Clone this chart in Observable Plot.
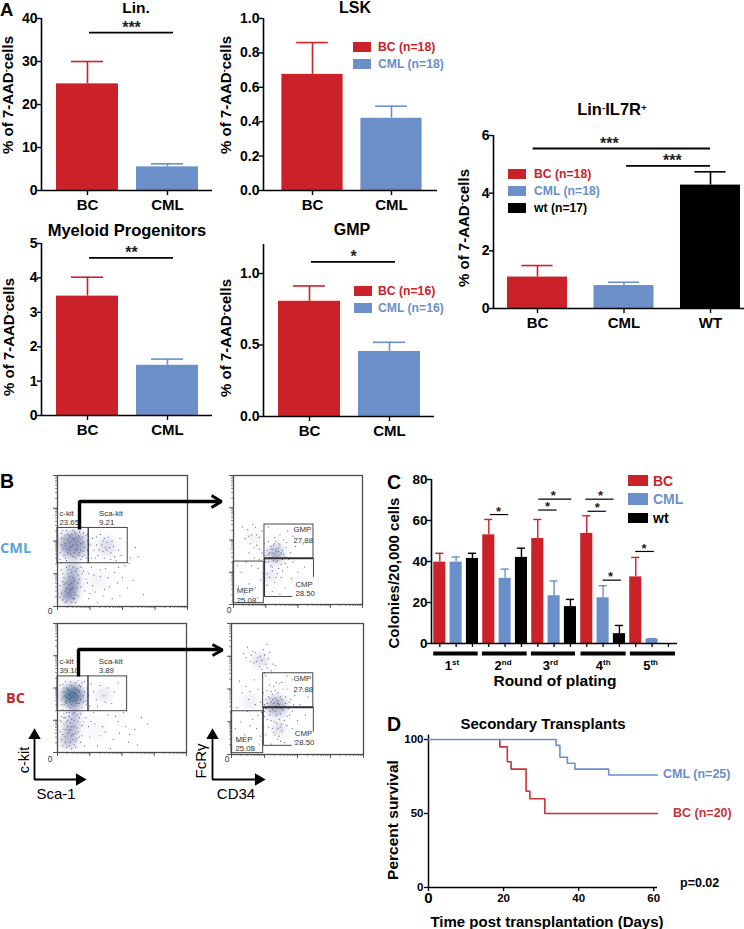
<!DOCTYPE html>
<html><head><meta charset="utf-8">
<script src="https://cdn.jsdelivr.net/npm/d3@7"></script>
<script src="https://cdn.jsdelivr.net/npm/@observablehq/plot@0.6"></script>
<style>
html,body{margin:0;padding:0;background:#fff}
#page{position:relative;width:744px;height:929px;overflow:hidden;font-family:"Liberation Sans",Arial,sans-serif;color:#000}
#page svg{position:absolute;overflow:visible;max-width:none}
.lb{position:absolute;white-space:nowrap;line-height:1;transform:translate(0,-50%)}
.ct{transform:translate(-50%,-50%)}
.rot{transform:translate(-50%,-50%) rotate(-90deg)}
.sw{position:absolute}
sup{font-size:60%;line-height:0;vertical-align:baseline;position:relative;top:-.45em}
</style></head><body><div id="page"></div>
<script>
const RED="#cb2229", BLUE="#6a8fc9", BLACK="#000";
const FONT='"Liberation Sans",Arial,sans-serif';

// Panel A values
const twoCats=["BC","CML"], threeCats=["BC","CML","WT"];
const linValues=[24.8,5.5], linErrors=[30,6.2];
const lskValues=[0.675,0.42], lskErrors=[0.86,0.49];
const myeValues=[3.47,1.46], myeErrors=[4.02,1.64];
const gmpValues=[0.806,0.455], gmpErrors=[0.913,0.519];
const il7Values=[1.09,0.796,4.28], il7Errors=[1.49,0.91,4.74];

// Panel C values
const rounds=["1","2","3","4","5"], roundSuffix=["st","nd","rd","th","th"], roundLabelAt=[.75,3.8,6.75,10,12.9];
const colBC=[39.7,53,51.2,53.7,32.5], colBCerr=[44,60.5,60.5,62.3,42];
const colCML=[39.7,31.8,23.3,22.3,2.2], colCMLerr=[42.2,36.3,30.5,28.2,2.4];
const colWT=[41.5,42,18,4.8,null], colWTerr=[44,46.5,21.5,8.8,null];
const colSig=[[3.1,4.22,62.9],[6.06,7.18,65.1],[6.06,8.08,70.4],[9.08,10.2,64.5],[8.94,10.67,70.4],[10,11.12,30.9],[12,13.14,44.9]];
const colStars=[[3.6,62.9],[6.6,65.1],[6.95,70.4],[9.65,64.5],[9.85,70.4],[10.45,30.9],[12.5,44.9]];
const roundBars=[[-0.37,2.35],[2.61,5.35],[5.61,8.31],[8.65,11.41],[11.67,14.43]];

// Panel D values
const survCML=[[0,100],[34,96],[35,88],[37,84],[39,80],[48,76],[61,76]];
const survBC=[[19,100],[19,95],[21,85],[22,80],[26,65],[27,60],[31,50],[61,50]];

// Panel B dots (percent of plot frame), estimated by eye
const tlPts=[[3,56],[5,52],[7,58],[9,49],[11,55],[13,51],[15,47],[17,57],[19,53],[21,45],[23,50],[4,44],[6,48],[8,41],[10,45],[12,38],[14,43],[16,39],[18,36],[20,42],[22,37],[2,36],[5,39],[7,35],[10,53],[13,57],[16,54],[18,48],[12,47],[14,49],[9,43],[11,50],[15,52],[6,54],[3,47],[2,41],[20,56],[23,43],[17,41],[8,51],
[27,52],[30,47],[33,55],[35,42],[38,49],[40,45],[42,50],[44,38],[47,43],[36,37],[31,39],[28,43],[39,53],[43,46],[48,52],[34,47],[26,37],[41,41],
[3,28],[5,22],[7,30],[9,17],[11,26],[13,20],[15,29],[6,12],[8,25],[10,8],[12,14],[4,5],[2,16],[14,9],[16,24],[18,30],[7,4],[11,3],[3,10],[9,31],[12,30],[5,17],[13,6],
[20,27],[23,18],[26,30],[29,11],[33,23],[37,29],[40,15],[44,26],[48,8],[52,31],[24,6],[31,3],[58,20],[46,18],[56,37],[60,45],[55,33],[66,9],[36,13],[21,12],[28,24],[42,6],[50,22],
[4,58],[6,37],[8,55],[10,40],[12,58],[14,37],[16,50],[18,43],[20,49],[22,54],[24,40],[25,47],[19,38],[13,41],[11,46],[7,44],[5,46],[9,54],[15,44],[17,53],[3,52],[21,39],[23,55],[12,52],[14,56],
[4,25],[6,18],[8,28],[10,13],[12,22],[14,27],[16,18],[3,33],[5,8],[7,14],[9,23],[11,18],[13,11],[15,14],[17,21],[2,7],[6,3],[10,28],[8,10],[12,6],[4,19],[14,3],[16,8],[18,15],[19,25],
[29,37],[32,43],[37,45],[45,35],[49,39],[36,52],[41,36],[30,53],[35,50],[38,43],[24,25],[27,16],[22,21],[35,8],[39,22],[47,30],[54,14],[62,38],[25,10],[33,28]];
const trPts=[[30,40],[33,43],[36,38],[28,36],[31,46],[35,47],[38,42],[26,42],[40,37],[25,33],[29,30],[33,33],[37,31],[41,44],[44,40],[27,49],[32,52],[36,54],[39,50],[24,47],[22,40],[30,26],[34,24],[28,21],[37,21],[32,17],[26,15],[42,29],[46,33],[48,45],[34,37],[31,34],[29,43],[35,41],[38,35],[32,39],[27,39],[33,49],[25,38],[43,35],
[11,58],[14,54],[17,60],[20,52],[13,47],[9,51],[18,46],[22,57],[15,62],[7,60],[12,40],[16,36],[20,35],[19,28],[23,24],[14,30],[21,19],[17,13],[24,11],[10,33],[6,25],[12,16],[8,8],[4,14],[15,6],[3,30],[19,5],[45,20],[40,13],[50,25],[52,36],[54,47],[46,53],[42,57],[30,10],[55,29],[36,8],[27,60],
[29,45],[31,37],[33,41],[35,44],[37,40],[30,43],[34,34],[28,40],[36,46],[32,47],[39,39],[27,33],[30,29],[35,28],[40,32],[24,29],[26,24],[33,21],[38,26],[41,48],[23,35],[20,43],[16,44],[18,54],[12,53]];
const blPts=[[4,47],[6,44],[8,42],[10,45],[12,40],[14,46],[16,43],[5,50],[7,38],[9,48],[11,52],[13,36],[15,49],[17,38],[3,41],[6,55],[10,35],[14,54],[18,51],[20,44],[22,40],[2,52],[19,35],[21,55],[8,46],[9,41],[7,43],[11,43],[12,47],[10,39],[5,37],[16,56],[23,50],[13,43],[15,41],
[28,47],[30,41],[33,52],[36,44],[39,50],[42,38],[44,47],[31,36],[26,53],[47,54],[37,39],
[3,28],[5,22],[7,31],[9,17],[11,26],[13,20],[15,29],[6,12],[8,25],[10,8],[12,14],[4,5],[2,16],[14,9],[16,24],[18,30],[7,4],[11,3],[3,10],[9,31],[12,30],[5,18],[13,6],[17,12],[19,21],[10,23],[6,27],[14,15],[4,33],[8,20],
[22,27],[25,12],[28,31],[31,5],[35,20],[39,29],[43,10],[47,24],[51,31],[55,8],[60,18],[65,27],[24,20],[33,13],[62,6],[41,3],[53,20],[70,22],[48,15],[29,22],
[4,53],[6,39],[7,50],[8,36],[10,55],[11,37],[13,50],[15,38],[17,47],[18,41],[19,54],[21,47],[22,37],[3,37],[5,43],[6,47],[7,40],[8,49],[9,44],[10,42],[11,47],[12,44],[13,46],[14,40],[15,44],[16,48],[17,52],[20,39],[24,44],[25,36],
[3,24],[5,27],[7,24],[9,28],[11,20],[13,25],[15,19],[17,27],[4,14],[6,8],[8,15],[10,18],[12,10],[14,4],[16,16],[18,8],[2,25],[7,18],[9,5],[11,13],[5,30],[13,31],[19,13],[20,24],[15,11],[21,5],[26,24],[37,16],[45,28],[56,14]];
const brPts=[[30,40],[33,43],[36,38],[28,36],[31,46],[35,47],[38,42],[26,42],[40,37],[25,33],[29,30],[33,33],[37,31],[41,44],[44,40],[27,49],[32,52],[36,54],[39,50],[24,47],[22,40],[30,26],[34,24],[28,21],[37,21],[32,17],[26,15],[42,29],[46,33],[48,45],[34,37],[31,34],[29,43],[35,41],[38,35],[32,39],[27,39],[33,49],[25,38],[43,35],[35,12],[38,18],[40,9],[30,8],[42,22],
[23,72],[20,74],[26,69],[18,78],[24,80],[15,76],[28,73],[21,67],[12,82],[30,64],[17,70],[25,62],[33,68],[14,71],[27,84],[9,77],
[11,52],[14,48],[17,57],[20,50],[13,42],[8,47],[18,38],[6,56],[12,33],[16,27],[20,30],[19,20],[22,14],[14,22],[21,8],[7,25],[10,15],[5,10],[4,36],[15,6],[3,20],[46,20],[50,26],[52,38],[54,50],[46,57],[42,60],[56,30],[48,10],[58,44],
[29,33],[31,42],[33,36],[35,39],[37,44],[39,34],[41,39],[30,48],[28,44],[26,35],[34,30],[36,27],[38,23],[32,25],[40,26],[44,30],[45,42],[47,38],[27,27],[33,15],[36,14],[29,53],[34,55],[38,55],[42,50],[25,29],[23,32],[31,20],[35,20],[37,10],
[22,75],[25,76],[19,71],[27,66],[31,69],[16,79],[23,65],[26,60],[11,74],[29,78]];

const decade=[0.0,7.5,11.9,15,17.5,19.5,21.2,22.6,23.9];
const minorTicks=[0,25,50,75].flatMap(d=>decade.map(v=>d+v)).concat([100]);
const majorTicks=[0,25,50,75,100];

const page=document.getElementById("page");
function label(html,x,y,size,opts={}){
  const d=document.createElement("div");
  d.className="lb"+(opts.cls?" "+opts.cls:"");
  d.innerHTML=html;
  d.style.left=x+"px";d.style.top=y+"px";d.style.fontSize=size+"px";
  d.style.fontWeight=opts.weight||"bold";
  d.style.color=opts.color||"#000";
  if(opts.font)d.style.fontFamily=opts.font;
  page.appendChild(d);
}
function swatch(x,y,w,h,c){
  const d=document.createElement("div");d.className="sw";
  d.style.cssText=`left:${x}px;top:${y}px;width:${w}px;height:${h}px;background:${c}`;
  page.appendChild(d);
}
const ML=45,MR=12,MT=15,MB=35;
function place(f,marks,xDomain,yDomain){
  const svg=Plot.plot({width:f.r-f.l+ML+MR,height:f.b-f.t+MT+MB,marginLeft:ML,marginRight:MR,marginTop:MT,marginBottom:MB,
    x:{domain:xDomain,axis:null},y:{domain:yDomain,axis:null},r:{type:"identity"},opacity:{type:"identity"},
    style:{background:"transparent",overflow:"visible",fontFamily:FONT},marks});
  svg.style.left=(f.l-ML)+"px";svg.style.top=(f.t-MT)+"px";
  page.appendChild(svg);return svg;
}
function barPanel(o){
  const n=o.cats.length, rows=o.cats.map((c,i)=>({i,cat:c,v:o.values[i],e:o.errors[i],c:[RED,BLUE,BLACK][i]}));
  const xd=[(o.f.l-o.c0)/o.step,(o.f.r-o.c0)/o.step];
  const hw=o.hw||0.3875, cap=o.cap||0.2;
  place(o.f,[
    Plot.ruleX(rows,{x:"i",y1:"v",y2:"e",stroke:"c",strokeWidth:1.6}),
    Plot.ruleY(rows,{y:"e",x1:d=>d.i-cap,x2:d=>d.i+cap,stroke:"c",strokeWidth:1.6}),
    Plot.rect(rows,{x1:d=>d.i-hw,x2:d=>d.i+hw,y1:0,y2:"v",fill:"c"}),
    Plot.ruleX([xd[0]],{stroke:"#000",strokeWidth:1.6}),
    Plot.ruleY([0],{stroke:"#000",strokeWidth:1.6}),
    Plot.axisY(o.yTicks,{tickSize:4,tickPadding:0,strokeWidth:1.4,fontSize:14,fontWeight:"bold",fill:"#000",stroke:"#000",tickFormat:o.fmt||(d=>d),label:null}),
    Plot.axisX(d3.range(n),{tickSize:5,tickPadding:4,strokeWidth:1.4,fontSize:15,fontWeight:"bold",fill:"#000",stroke:"#000",tickFormat:i=>o.cats[i],label:null}),
    Plot.ruleY(o.sig||[],{y:d=>d[2],x1:d=>d[0],x2:d=>d[1],stroke:"#000",strokeWidth:1.8}),
    Plot.text(o.sig||[],{x:d=>(d[0]+d[1])/2+(d[4]||0),y:d=>d[2],text:d=>d[3],dy:-5,fontSize:16,fontWeight:"bold",fill:"#222"})
  ],xd,o.yd);
}
const fmt1=d3.format(".1f");

barPanel({f:{l:41,r:212,t:18,b:190},c0:87,step:80,cats:twoCats,values:linValues,errors:linErrors,yd:[0,40],yTicks:[0,10,20,30,40],sig:[[0.025,1.075,36.7,"***"]]});
barPanel({f:{l:263,r:437,t:18,b:190},c0:312,step:79,cats:twoCats,values:lskValues,errors:lskErrors,yd:[0,1],yTicks:[0,.2,.4,.6,.8,1],fmt:fmt1});
barPanel({f:{l:41,r:212,t:243,b:415},c0:87,step:80,cats:twoCats,values:myeValues,errors:myeErrors,yd:[0,5],yTicks:[0,1,2,3,4,5],sig:[[0.025,1.075,4.58,"**"]]});
barPanel({f:{l:263,r:434,t:244,b:416},c0:309,step:80,cats:twoCats,values:gmpValues,errors:gmpErrors,yd:[0,1.203],yTicks:[0,.5,1],fmt:fmt1,sig:[[0.025,1.075,1.082,"*"]]});
barPanel({f:{l:493,r:744,t:135,b:308},c0:537,step:86.5,cats:threeCats,values:il7Values,errors:il7Errors,yd:[0,6],yTicks:[0,2,4,6],hw:0.347,cap:0.18,sig:[[-0.05,2.0,5.55,"***",-0.145],[1.03,2.0,4.95,"***",0.045]]});

const yLab='% of 7-AAD<sup>-</sup>cells';
[[7,95],[225,95],[8,337],[225,338],[463,228]].forEach(([x,y])=>label(yLab,x,y,15,{cls:"rot"}));
[["Lin.",136,8,15.5],["LSK",355,8,16],["Myeloid Progenitors",127,230,16.5],["GMP",352,230,16],['Lin<sup>-</sup>IL7R<sup>+</sup>',612,109,16.5],["Secondary Transplants",543,723,15]]
 .forEach(([t,x,y,s])=>label(t,x,y,s,{cls:"ct"}));

function legend(items,xs,xt,size){
  items.forEach(([t,c,y,tc])=>{swatch(xs,y-5,18,10,c);label(t,xt,y,size,{color:tc||c});});
}
legend([["BC (n=18)",RED,47],["CML (n=18)",BLUE,64]],353,378,12.2);
legend([["BC (n=16)",RED,291],["CML (n=16)",BLUE,308]],354,378,12.2);
legend([["BC (n=18)",RED,174],["CML (n=18)",BLUE,191],["wt (n=17)",BLACK,208]],508,534,12.2);

// Panel C
const cRows=[];
rounds.forEach((r,k)=>{
  [[colBC,colBCerr,RED],[colCML,colCMLerr,BLUE],[colWT,colWTerr,BLACK]].forEach(([v,e,c],j)=>{
    if(v[k]!=null) cRows.push({i:k*3+j,v:v[k],e:e[k],c});
  });
});
const cF={l:431,r:677,t:479,b:643}, cStep=16.33, cC0=439.3;
const cX=[(cF.l-cC0)/cStep,(cF.r-cC0)/cStep];
place(cF,[
  Plot.ruleX(cRows,{x:"i",y1:"v",y2:"e",stroke:"c",strokeWidth:1.4}),
  Plot.ruleY(cRows,{y:"e",x1:d=>d.i-.25,x2:d=>d.i+.25,stroke:"c",strokeWidth:1.4}),
  Plot.rect(cRows,{x1:d=>d.i-.37,x2:d=>d.i+.37,y1:0,y2:"v",fill:"c"}),
  Plot.ruleX([cX[0]],{stroke:"#000",strokeWidth:1.6}),
  Plot.ruleY([0],{stroke:"#000",strokeWidth:1.6}),
  Plot.axisY([0,20,40,60,80],{tickSize:4,tickPadding:0,strokeWidth:1.4,fontSize:13.5,fontWeight:"bold",fill:"#000",stroke:"#000",label:null}),
  Plot.axisX(d3.range(15),{tickSize:4,fill:"none",stroke:"#000",strokeWidth:1.3,label:null}),
  Plot.ruleY(colSig,{y:d=>d[2],x1:d=>d[0],x2:d=>d[1],stroke:"#000",strokeWidth:1.2}),
  Plot.text(colStars,{x:d=>d[0],y:d=>d[1],text:()=>"*",dy:-3,fontSize:13,fontWeight:"bold",fill:"#222"}),
  Plot.ruleY(roundBars,{y:-4.9,x1:d=>d[0],x2:d=>d[1],stroke:"#000",strokeWidth:4}),
  Plot.text(rounds,{x:(d,i)=>roundLabelAt[i],y:-10.7,text:d=>d,textAnchor:"end",fontSize:13,fontWeight:"bold",fill:"#000"}),
  Plot.text(rounds,{x:(d,i)=>roundLabelAt[i],y:-9.2,text:(d,i)=>roundSuffix[i],textAnchor:"start",fontSize:8,fontWeight:"bold",fill:"#000"})
],cX,[0,80]);
label("Colonies/20,000 cells",393,573,15,{cls:"rot"});
label("Round of plating",555,681,15.5,{cls:"ct"});
swatch(628,475,20,11,RED);swatch(628,493,20,12,BLUE);swatch(628,513,20,10,BLACK);
label("BC",653,481,14,{color:RED});label("CML",653,499,14,{color:BLUE});label("wt",653,518,14);

// Panel D
const dF={l:428,r:657,t:739,b:887};
place(dF,[
  Plot.ruleX([0],{y1:0,y2:103,stroke:"#000",strokeWidth:1.5}),
  Plot.ruleY([0],{stroke:"#000",strokeWidth:1.5}),
  Plot.axisY([0,50,100],{tickSize:4,tickPadding:1,strokeWidth:1.3,fontSize:11.5,fontWeight:"bold",fill:"#000",stroke:"#000",label:null}),
  Plot.axisX([20,40,60],{tickSize:4,tickPadding:2,strokeWidth:1.3,fontSize:11.5,fontWeight:"bold",fill:"#000",stroke:"#000",label:null}),
  Plot.axisX([0],{tickSize:4,tickPadding:1,strokeWidth:1.3,fontSize:15,fontWeight:"bold",fill:"#000",stroke:"#000",label:null}),
  Plot.line(survBC,{x:d=>d[0],y:d=>d[1],curve:"step-after",stroke:"#c9323a",strokeWidth:1.6}),
  Plot.line(survCML,{x:d=>d[0],y:d=>d[1],curve:"step-after",stroke:BLUE,strokeWidth:1.6})
],[0,61],[0,100]);
label("CML (n=25)",663,774,12.5,{color:BLUE});
label("BC (n=20)",673,813,12.5,{color:"#c9323a"});
label("p=0.02",680,883,12.5);
label("Percent survival",393,820,15.5,{cls:"rot"});
label("Time post transplantation (Days)",547,921,15,{cls:"ct"});

// Panel B flow plots
function flow(f,pts,blobs,gates,rules,texts){
  const ink="#4b4b4b";
  const svg=place(f,[
    Plot.dot(blobs,{x:d=>d[0],y:d=>d[1],r:d=>d[2],fill:d=>d[3],fillOpacity:d=>d[4]}),
    Plot.dot(pts,{x:d=>d[0],y:d=>d[1],r:.6,fill:"#333a78",fillOpacity:.8}),
    Plot.rect(gates,{x1:d=>d[0],x2:d=>d[1],y1:d=>d[2],y2:d=>d[3],fill:"none",stroke:"#333",strokeWidth:.9}),
    Plot.ruleY(rules.filter(d=>d[0]=="h"),{y:d=>d[1],x1:d=>d[2],x2:d=>d[3],stroke:"#333",strokeWidth:d=>d[4]||.9}),
    Plot.ruleX(rules.filter(d=>d[0]=="v"),{x:d=>d[1],y1:d=>d[2],y2:d=>d[3],stroke:"#333",strokeWidth:d=>d[4]||.9}),
    Plot.frame({stroke:ink,strokeWidth:1.3}),
    Plot.axisX(minorTicks,{tickSize:2,fill:"none",stroke:ink,strokeWidth:.6,label:null}),
    Plot.axisX(majorTicks,{tickSize:4,fill:"none",stroke:ink,strokeWidth:.9,label:null}),
    Plot.axisY(minorTicks,{tickSize:2,fill:"none",stroke:ink,strokeWidth:.6,label:null}),
    Plot.axisY(majorTicks,{tickSize:4,fill:"none",stroke:ink,strokeWidth:.9,label:null}),
    Plot.text(texts,{x:d=>d[0],y:d=>d[1],text:d=>d[2],textAnchor:"start",fontSize:7.8,fill:"#333"})
  ],[0,100],[0,100]);
  const densityLayer=svg.querySelector('g[aria-label="dot"]');
  if(densityLayer) densityLayer.style.filter="blur(3.5px)";
}
const NAVY="#35407f", TEAL="#2f8f93";
flow({l:57,r:187,t:475,b:606},tlPts,
 [[12,47,13,NAVY,.5],[9,9,8,NAVY,.55],[11,18,8,NAVY,.5],[12,28,7,NAVY,.35],[38,46,9,NAVY,.18],[8,20,3.5,TEAL,.3],[30,20,11,NAVY,.05]],
 [[0,24,33,60],[24,54,33,60]],[],
 [[1.5,71,"c-kit"],[1.5,64,"23.65"],[32,71,"Sca-kit"],[32,64,"9.21"]]);
flow({l:57,r:186,t:623,b:752},blPts,
 [[12,44,11,NAVY,.65],[9,10,8,NAVY,.35],[11,20,8,NAVY,.35],[13,30,6,NAVY,.35],[10,44,5,"#1f8a9a",.75],[9.5,44,2.2,"#58b368",.9],[36,45,7,NAVY,.14],[30,18,11,NAVY,.04]],
 [[0,24,32,59],[24,54,32,59]],[],
 [[1.5,70.5,"c-kit"],[1.5,63.5,"39.10"],[32,70.5,"Sca-kit"],[32,63.5,"3.89"]]);
flow({l:233,r:362,t:475,b:604},trPts,
 [[32,38,8.5,NAVY,.3],[34,42,4,NAVY,.3],[28,22,6,NAVY,.15],[15,52,7,NAVY,.08]],
 [[24,62,35.7,62],[0,23.5,1,33.3]],
 [["h",35.7,24,62,1.7],["v",24,6.2,35.7,1.2],["h",6.2,24,46],["v",62,21,35.7]],
 [[46.5,58,"GMP"],[46.5,50,"27.88"],[48,15.5,"CMP"],[48,8.5,"28.50"],[2.5,11,"MEP"],[2.5,3,"25.08"]]);
flow({l:231,r:363,t:623,b:754},brPts,
 [[34,37,10,NAVY,.38],[36,20,6,NAVY,.22],[22,72,7,NAVY,.2],[14,40,9,NAVY,.08]],
 [[24,62,36,62],[0,24,1,33]],
 [["h",36,24,62,1.9],["v",24,7,36,1.2],["h",7,24,46],["v",62,17,36]],
 [[47,58,"GMP"],[47,50,"27.88"],[48,16,"CMP"],[48,9,"28.50"],[3,11.5,"MEP"],[3,4.6,"25.08"]]);

// Arrows, in page coordinates
const gateArrows=[[[79,529],[79,501],[219,501]],[[78,676],[78,649],[219,649]]];
const gateHeads=[[[211,495],[221,501],[211,507]],[[212,644],[222,649.5],[212,655]]];
const axisArrows=[[[83,779],[34,779],[34,736]],[[262,779],[212,779],[212,736]]];
const overlay=Plot.plot({width:744,height:929,margin:0,x:{domain:[0,744],axis:null},y:{domain:[0,929],range:[0,929],axis:null},
  style:{background:"transparent",pointerEvents:"none"},marks:[
  ...gateArrows.map(a=>Plot.line(a,{x:d=>d[0],y:d=>d[1],stroke:"#000",strokeWidth:3.4,strokeLinejoin:"miter",strokeLinecap:"butt"})),
  ...gateHeads.map(a=>Plot.line(a,{x:d=>d[0],y:d=>d[1],stroke:"#000",strokeWidth:3,strokeLinejoin:"miter",strokeLinecap:"butt"})),
  ...axisArrows.map(a=>Plot.line(a,{x:d=>d[0],y:d=>d[1],stroke:"#000",strokeWidth:1.8,strokeLinejoin:"miter"})),
  Plot.dot([[34,735],[212,735]],{x:d=>d[0],y:d=>d[1],symbol:"triangle",r:4.6,fill:"#000"}),
  Plot.dot([[79,779],[258,779]],{x:d=>d[0],y:d=>d[1],symbol:"triangle",r:4.6,fill:"#000",rotate:90})
]});
overlay.style.left="0";overlay.style.top="0";page.appendChild(overlay);

label("c-kit",24,760,14.5,{cls:"rot",weight:"normal"});
label("Sca-1",56,793,15,{cls:"ct",weight:"normal"});
label("FcRγ",200,761,15,{cls:"rot",weight:"normal"});
label("CD34",236,793,15,{cls:"ct",weight:"normal"});
label("0",50,611,8.5,{cls:"ct",weight:"normal",color:"#333"});
label("0",50,759,8.5,{cls:"ct",weight:"normal",color:"#333"});
label("0",229,610,8.5,{cls:"ct",weight:"normal",color:"#333"});
label("0",227,759,8.5,{cls:"ct",weight:"normal",color:"#333"});
label("CML",0,548,14.5,{color:"#5aa5dc",font:"'Open Sans',sans-serif"});
label("BC",6,698,14.5,{color:"#c1272d",font:"'Open Sans',sans-serif"});
[["A",0,9.5,18.5],["B",0,482,19.5],["C",387,483,19.5],["D",387,725,19.5]].forEach(([t,x,y,s])=>label(t,x,y,s));
</script></body></html>
